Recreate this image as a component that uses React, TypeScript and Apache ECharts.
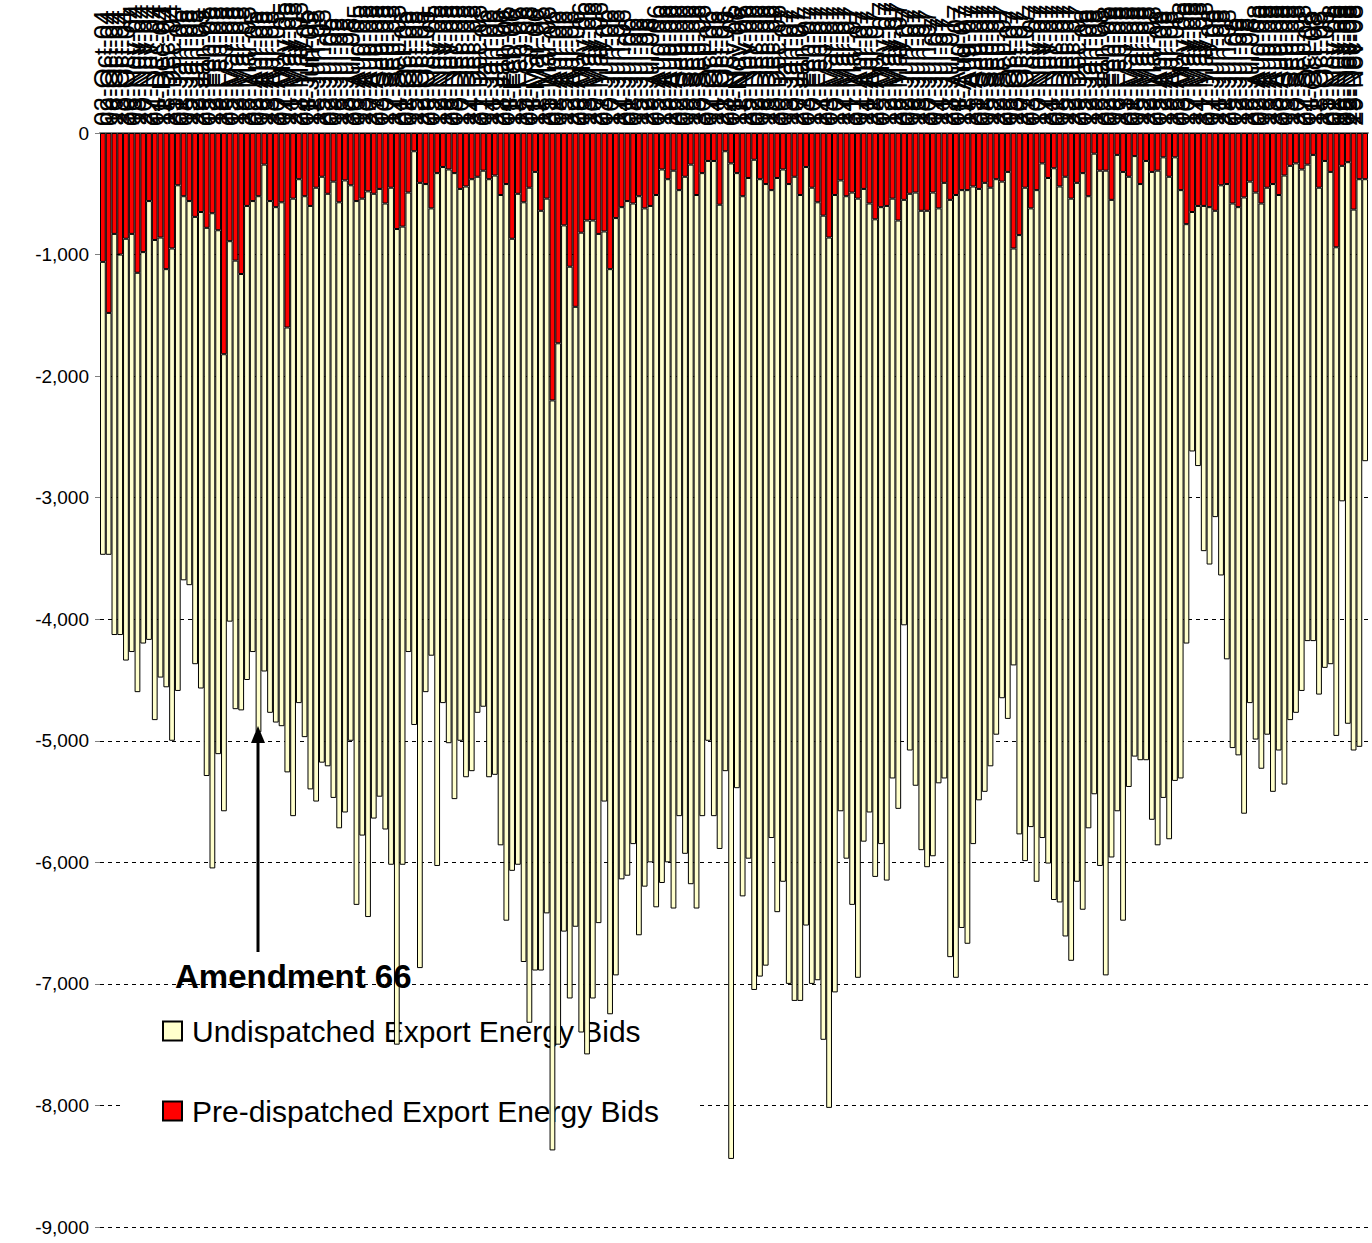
import React, { useEffect, useRef } from "react";
import * as echarts from "echarts";

const FONT = "'Liberation Sans', Arial, sans-serif";
const MONTHS = ["Jan", "Feb", "Mar", "Apr", "May", "Jun", "Jul", "Aug", "Sep", "Oct", "Nov", "Dec"];

// Weekly (Saturday) categories from 02-Oct-04 to 13-Dec-08
const FIRST_WEEK = Date.UTC(2004, 9, 2);
const WEEK_COUNT = 220;
const weeks: string[] = Array.from({ length: WEEK_COUNT }, (_, i) => {
  const d = new Date(FIRST_WEEK + i * 7 * 86400000);
  const dd = String(d.getUTCDate()).padStart(2, "0");
  const yy = String(d.getUTCFullYear() % 100).padStart(2, "0");
  return `${dd}-${MONTHS[d.getUTCMonth()]}-${yy}`;
});

// Pre-dispatched export energy bids (red, top of each bar)
const preDispatched = [
  -1060, -1480, -830, -1000, -870, -830, -1150, -980, -560, -880,
  -860, -1120, -950, -430, -520, -560, -690, -650, -780, -660,
  -800, -1820, -890, -1050, -1160, -600, -560, -520, -260, -560,
  -610, -570, -1600, -540, -380, -520, -600, -450, -360, -500,
  -400, -570, -390, -430, -560, -540, -480, -500, -460, -580,
  -450, -790, -770, -490, -150, -410, -420, -620, -330, -280,
  -300, -330, -460, -440, -380, -360, -310, -380, -350, -510,
  -420, -870, -500, -570, -450, -320, -640, -540, -2200, -1730,
  -760, -1100, -1430, -820, -720, -720, -830, -810, -1120, -700,
  -610, -560, -580, -520, -620, -600, -510, -300, -380, -310,
  -470, -360, -260, -510, -330, -230, -230, -590, -150, -250,
  -330, -520, -370, -220, -380, -420, -470, -370, -300, -420,
  -360, -510, -280, -450, -570, -680, -860, -510, -390, -520,
  -490, -540, -460, -580, -710, -610, -600, -540, -720, -550,
  -500, -490, -640, -640, -490, -620, -410, -550, -510, -470,
  -470, -440, -460, -410, -450, -380, -400, -320, -950, -840,
  -450, -620, -470, -250, -370, -290, -440, -360, -540, -410,
  -330, -520, -170, -310, -310, -550, -180, -320, -360, -190,
  -420, -230, -320, -310, -200, -360, -200, -470, -750, -650,
  -600, -600, -610, -640, -430, -420, -580, -610, -530, -400,
  -490, -580, -450, -420, -510, -350, -270, -250, -300, -260,
  -180, -450, -230, -320, -940, -270, -240, -630, -380, -380,
];

// Total export energy bids (bottom of each bar)
const totalBids = [
  -3470, -3470, -4130, -4130, -4340, -4270, -4600, -4200, -4170, -4830,
  -4480, -4560, -5000, -4590, -3680, -3720, -4370, -4570, -5290, -6050,
  -5110, -5580, -4020, -4740, -4750, -4500, -4270, -4930, -4430, -4770,
  -4850, -4880, -5260, -5620, -4690, -4970, -5400, -5500, -5180, -5210,
  -5470, -5720, -5590, -5000, -6350, -5780, -6450, -5640, -5460, -5730,
  -6020, -7500, -6020, -4270, -4870, -6870, -4600, -4300, -6030, -4690,
  -5020, -5480, -5000, -5300, -5250, -4770, -4720, -5300, -5280, -5860,
  -6480, -6070, -6020, -6820, -7320, -6890, -6890, -6420, -8370, -7500,
  -6570, -7120, -6530, -7400, -7580, -7120, -6500, -5500, -7250, -6930,
  -6140, -6110, -5850, -6600, -6200, -6000, -6370, -6170, -6000, -6380,
  -5620, -5930, -6180, -6380, -5620, -5000, -5620, -5890, -5250, -8440,
  -5390, -6280, -5970, -7050, -6940, -6850, -5800, -6410, -6160, -7000,
  -7140, -7140, -6520, -7000, -6970, -7460, -8020, -7070, -5580, -5970,
  -6350, -6950, -5830, -5590, -6120, -5850, -6150, -5310, -5560, -4050,
  -5080, -5370, -5900, -6040, -5950, -5350, -5310, -6780, -6950, -6540,
  -6670, -5850, -5490, -5420, -5210, -4950, -4650, -4820, -4380, -5770,
  -5990, -5710, -6160, -5800, -6010, -6310, -6330, -6610, -6810, -6160,
  -6390, -5720, -5440, -6030, -6930, -5960, -5580, -6480, -5380, -5130,
  -5160, -5160, -5650, -5860, -5470, -5810, -5330, -5310, -4200, -2620,
  -2740, -3440, -3550, -3160, -3640, -4330, -5060, -5120, -5600, -4690,
  -4990, -5230, -4950, -5420, -5080, -5360, -4830, -4770, -4590, -4180,
  -4180, -4620, -4400, -4370, -4960, -3030, -4860, -5080, -5050, -2700,
];

const undispatched = totalBids.map((t, i) => t - preDispatched[i]);

const Y_MIN = -9000;
const Y_MAX = 0;
const Y_STEP = 1000;

const SERIES_UNDISPATCHED = "Undispatched Export Energy Bids";
const SERIES_PREDISPATCHED = "Pre-dispatched Export Energy Bids";
const ANNOTATION = "Amendment 66";

export default function App() {
  const ref = useRef<HTMLDivElement>(null);

  useEffect(() => {
    document.body.style.margin = "0";
    if (!ref.current) return;
    const chart = echarts.init(ref.current, undefined, { renderer: "svg" });
    // The last labels sit against the right edge: anchor them on their left side so they stay in view
    const categoryData = weeks.map((w, i) =>
      i >= weeks.length - 2 ? { value: w, textStyle: { verticalAlign: "bottom" } } : w
    );
    chart.setOption({
      animation: false,
      backgroundColor: "#ffffff",
      grid: { left: 100, right: 4, top: 133, bottom: 16, containLabel: false, outerBoundsMode: "none" },
      legend: {
        orient: "vertical",
        left: 122,
        top: 992,
        z: 1,
        backgroundColor: "#ffffff",
        padding: [24, 40, 24, 40],
        itemWidth: 19,
        itemHeight: 19,
        itemGap: 50,
        textStyle: { fontSize: 30, fontFamily: FONT, color: "#000", padding: [0, 0, 0, 5] },
        data: [
          { name: SERIES_UNDISPATCHED, icon: "rect" },
          { name: SERIES_PREDISPATCHED, icon: "rect" },
        ],
      },
      xAxis: {
        type: "category",
        position: "top",
        data: categoryData,
        axisLine: { show: true, lineStyle: { color: "#808080", width: 2 } },
        axisTick: { show: false },
        axisLabel: {
          interval: 0,
          rotate: 90,
          fontSize: 26,
          fontFamily: FONT,
          color: "#000",
          margin: 7,
          overflow: "none",
          hideOverlap: false,
        },
        splitLine: { show: false },
      },
      yAxis: {
        type: "value",
        min: Y_MIN,
        max: Y_MAX,
        interval: Y_STEP,
        axisLine: { show: false },
        axisTick: { show: true, length: 5, lineStyle: { color: "#808080" } },
        axisLabel: {
          fontSize: 19,
          fontFamily: FONT,
          color: "#000",
          margin: 11,
          formatter: (v: number) => v.toLocaleString("en-US"),
        },
        splitLine: { show: true, lineStyle: { color: "#000", type: [4, 4], width: 1 } },
      },
      series: [
        {
          name: SERIES_PREDISPATCHED,
          type: "bar",
          stack: "bids",
          data: preDispatched,
          barCategoryGap: "0%",
          itemStyle: { color: "#FF0000", borderColor: "#000", borderWidth: 1 },
        },
        {
          name: SERIES_UNDISPATCHED,
          type: "bar",
          stack: "bids",
          data: undispatched,
          barCategoryGap: "0%",
          itemStyle: { color: "#FFFFCC", borderColor: "#000", borderWidth: 1 },
        },
      ],
      graphic: [
        {
          type: "line",
          z: 10,
          shape: { x1: 258, y1: 952, x2: 258, y2: 740 },
          style: { stroke: "#000", lineWidth: 3 },
        },
        {
          type: "polygon",
          z: 10,
          shape: { points: [[258, 726], [251, 743], [265, 743]] },
          style: { fill: "#000" },
        },
        {
          type: "text",
          z: 10,
          left: 175,
          top: 960,
          style: {
            text: ANNOTATION,
            font: `bold 33px ${FONT}`,
            fill: "#000",
          },
        },
      ],
    });
    return () => chart.dispose();
  }, []);

  return <div ref={ref} style={{ width: 1372, height: 1243 }} />;
}
